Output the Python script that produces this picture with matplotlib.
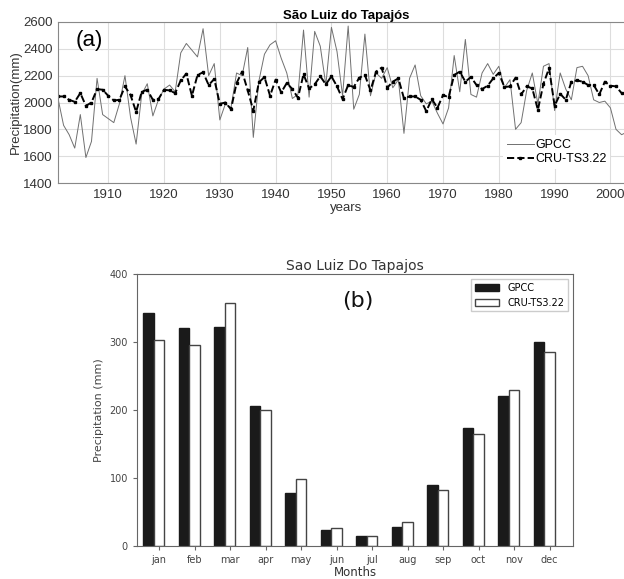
import numpy as np
import matplotlib
matplotlib.use('Agg')
import matplotlib.pyplot as plt

# annual precipitation (mm), 1901-2003
years = np.arange(1901, 2004)
gpcc_annual = [2030, 1830, 1760, 1660, 1910, 1590, 1710, 2180, 1910, 1880,
               1850, 1990, 2200, 1890, 1690, 2060, 2140, 1900, 2020, 2100,
               2130, 2080, 2370, 2440, 2390, 2340, 2550, 2200, 2290, 1870,
               1990, 1960, 2220, 2200, 2410, 1740, 2160, 2360, 2430, 2460,
               2330, 2220, 2030, 2060, 2540, 2040, 2530, 2420, 2130, 2560,
               2380, 2050, 2570, 1950, 2060, 2510, 2050, 2220, 2180, 2260,
               2110, 2170, 1770, 2180, 2280, 2050, 1990, 2010, 1920, 1840,
               1960, 2350, 2080, 2470, 2060, 2040, 2220, 2290, 2210, 2270,
               2110, 2170, 1800, 1850, 2090, 2220, 1990, 2270, 2290, 1940,
               2220, 2100, 2020, 2260, 2270, 2200, 2020, 2000, 2010, 1960,
               1800, 1760, 1780]
cru_annual = [2045, 2045, 2020, 2005, 2070, 1975, 2000, 2100, 2095, 2050,
              2015, 2020, 2120, 2055, 1930, 2080, 2095, 2020, 2025, 2095,
              2090, 2070, 2165, 2215, 2050, 2205, 2225, 2130, 2175, 1990,
              2000, 1950, 2145, 2230, 2090, 1940, 2150, 2190, 2050, 2170,
              2075, 2145, 2100, 2035, 2210, 2105, 2135, 2195, 2135, 2195,
              2120, 2025, 2130, 2115, 2185, 2205, 2090, 2230, 2260, 2110,
              2155, 2180, 2030, 2045, 2045, 2020, 1935, 2025, 1960, 2055,
              2040, 2205, 2230, 2155, 2190, 2130, 2100, 2125, 2180, 2220,
              2115, 2120, 2185, 2060, 2120, 2105, 1945, 2140, 2255, 1975,
              2065, 2020, 2155, 2165, 2155, 2130, 2130, 2060, 2155, 2125,
              2120, 2070, 2060]

# monthly climatology (mm)
months = ['jan', 'feb', 'mar', 'apr', 'may', 'jun',
          'jul', 'aug', 'sep', 'oct', 'nov', 'dec']
gpcc_monthly = [343, 320, 322, 206, 78, 24, 14, 28, 90, 173, 220, 300]
cru_monthly = [303, 295, 357, 200, 98, 26, 14, 36, 83, 165, 229, 285]

fig = plt.figure(figsize=(6.24, 5.79), dpi=100)

# (a) annual series
ax1 = fig.add_axes([58 / 624, 1 - 183 / 579, 576 / 624, 161 / 579])
ax1.plot(years, gpcc_annual, color='#707070', lw=0.7, label='GPCC')
ax1.plot(years, cru_annual, color='black', lw=1.4, ls='--', marker='s',
         markersize=2, label='CRU-TS3.22')
ax1.set_xlim(1901, 1901 + 576 / 5.58)
ax1.set_ylim(1400, 2600)
ax1.set_xticks(range(1910, 2001, 10))
ax1.set_yticks(range(1400, 2601, 200))
ax1.grid(True, color='#dddddd', lw=0.8)
ax1.set_axisbelow(True)
for s in ax1.spines.values():
    s.set_color('#888888')
ax1.tick_params(labelsize=9.5, labelcolor='#333333', length=0, pad=4,
                labelfontfamily='Liberation Sans')
ax1.set_title('São Luiz do Tapajós', fontsize=9.5, fontweight='bold',
              family='Liberation Sans', pad=2)
ax1.set_xlabel('years', fontsize=9.5, color='#333333', family='Liberation Sans',
               labelpad=1)
ax1.set_ylabel('Precipitation(mm)', fontsize=9.5, color='#333333',
               family='Liberation Sans', labelpad=1)
ax1.text(0.03, 0.85, '(a)', transform=ax1.transAxes, fontsize=16,
         family='Liberation Sans')
ax1.legend(loc='lower right', bbox_to_anchor=(0.97, 0.05),
           prop={'family': 'Liberation Sans', 'size': 9},
           handlelength=2.2, handletextpad=0.1, labelspacing=0.15,
           framealpha=1, edgecolor='none', borderpad=0.3)

# (b) monthly bars
ax2 = fig.add_axes([137 / 624, 1 - 546 / 579, 436 / 624, 272 / 579])
x = np.arange(len(months))
w = 0.3
ax2.bar(x, gpcc_monthly, width=w, color='#1a1a1a', edgecolor='#1a1a1a',
        label='GPCC')
ax2.bar(x + w, cru_monthly, width=w, color='white', edgecolor='#444444',
        lw=1.0, label='CRU-TS3.22')
ax2.set_xticks(x + w)
ax2.set_xticklabels(months)
ax2.set_xlim(-0.32, 11.96)
ax2.set_ylim(0, 400)
ax2.set_yticks([0, 100, 200, 300, 400])
for s in ax2.spines.values():
    s.set_color('#666666')
ax2.tick_params(labelsize=7, labelcolor='#444444', color='#666666', length=3)
ax2.set_title('Sao Luiz Do Tapajos', fontsize=10, color='#333333', pad=3)
ax2.set_xlabel('Months', fontsize=8.5, color='#333333', labelpad=1)
ax2.set_ylabel('Precipitation (mm)', fontsize=8, color='#444444')
ax2.text(0.507, 0.9, '(b)', transform=ax2.transAxes, fontsize=16,
         ha='center', va='center', color='#111111')
ax2.legend(loc='upper right', fontsize=7, framealpha=1, edgecolor='#cccccc',
           fancybox=False, handlelength=2.5, labelspacing=0.5)

fig.savefig('out.png', dpi=100)
